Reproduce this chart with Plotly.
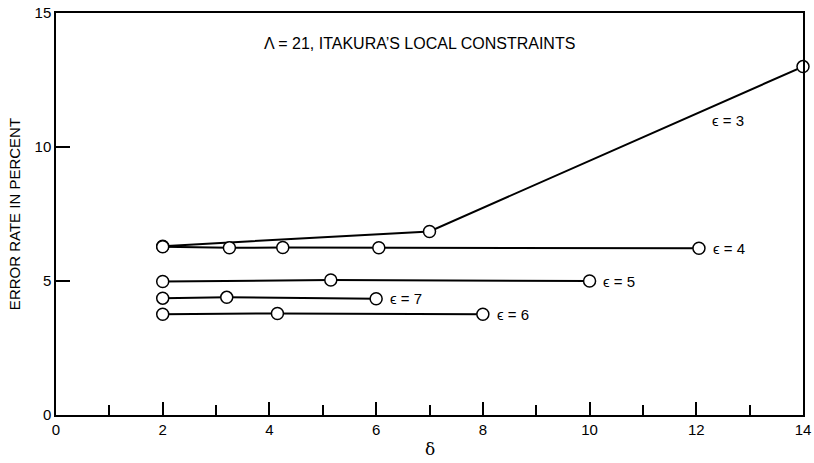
import plotly.graph_objects as go

# data
eps3_x = [2, 7, 14]
eps3_y = [6.3, 6.85, 13.0]
eps4_x = [2, 3.25, 4.25, 6.05, 12.05]
eps4_y = [6.28, 6.24, 6.25, 6.24, 6.22]
eps5_x = [2, 5.15, 10.0]
eps5_y = [4.98, 5.04, 5.0]
eps7_x = [2, 3.2, 6.0]
eps7_y = [4.36, 4.39, 4.34]
eps6_x = [2, 4.15, 8.0]
eps6_y = [3.76, 3.79, 3.76]

series = [("ϵ = 3", eps3_x, eps3_y), ("ϵ = 4", eps4_x, eps4_y),
          ("ϵ = 5", eps5_x, eps5_y), ("ϵ = 7", eps7_x, eps7_y),
          ("ϵ = 6", eps6_x, eps6_y)]

# label positions (data coords)
label_pos = {"ϵ = 3": (12.6, 11.0, "center"), "ϵ = 4": (12.27, 6.22, "left"),
             "ϵ = 5": (10.22, 5.0, "left"), "ϵ = 7": (6.22, 4.34, "left"),
             "ϵ = 6": (8.22, 3.76, "left")}

FONT = "Liberation Sans, Arial, sans-serif"
BLACK = "black"
PLOT_H = 415 - 13

fig = go.Figure()
for name, xs, ys in series:
    fig.add_trace(go.Scatter(
        x=xs, y=ys, mode="lines+markers", name=name, showlegend=False,
        line=dict(color=BLACK, width=2),
        marker=dict(symbol="circle", size=12, color="white",
                    line=dict(color=BLACK, width=1.5)),
        cliponaxis=False))
    lx, ly, anc = label_pos[name]
    fig.add_annotation(x=lx, y=ly, text=name, showarrow=False, xanchor=anc,
                       yanchor="middle", font=dict(family=FONT, size=15, color=BLACK))

fig.add_annotation(xref="paper", yref="paper", x=(262 - 56.5) / (803 - 56.5),
                   y=(415 - 43) / PLOT_H, xanchor="left", yanchor="middle",
                   text="Λ = 21, ITAKURA’S LOCAL CONSTRAINTS", showarrow=False,
                   font=dict(family=FONT, size=16, color=BLACK))

# x-axis title
fig.add_annotation(xref="paper", yref="paper", x=0.5, y=(415 - 449) / PLOT_H,
                   xanchor="center", yanchor="middle", text="δ", showarrow=False,
                   font=dict(family="DejaVu Serif, serif", size=17, color=BLACK))

fig.update_layout(
    template="simple_white",
    width=814, height=463,
    margin=dict(l=56, r=11, t=13, b=48, autoexpand=False),
    paper_bgcolor="white", plot_bgcolor="white",
    font=dict(family=FONT, size=15, color=BLACK),
    xaxis=dict(range=[0, 14], dtick=2, tick0=0, ticks="inside", ticklen=13,
               tickwidth=1.5, tickcolor=BLACK, showgrid=False, zeroline=False,
               showline=True, linecolor=BLACK, linewidth=1.5, mirror=True,
               automargin=False,
               minor=dict(dtick=1, ticks="inside", ticklen=10, tickwidth=1.5,
                          tickcolor=BLACK, showgrid=False),
               tickfont=dict(family=FONT, size=15, color=BLACK)),
    yaxis=dict(range=[0, 15], tickvals=[0, 5, 10, 15], ticks="inside", ticklen=14,
               tickwidth=1.5, tickcolor=BLACK, showgrid=False, zeroline=False,
               showline=True, linecolor=BLACK, linewidth=1.5, mirror=True,
               automargin=False,
               title=dict(text="ERROR RATE IN PERCENT",
                          font=dict(family=FONT, size=15, color=BLACK), standoff=10),
               tickfont=dict(family=FONT, size=15, color=BLACK)),
)

fig.write_html("out.html")
